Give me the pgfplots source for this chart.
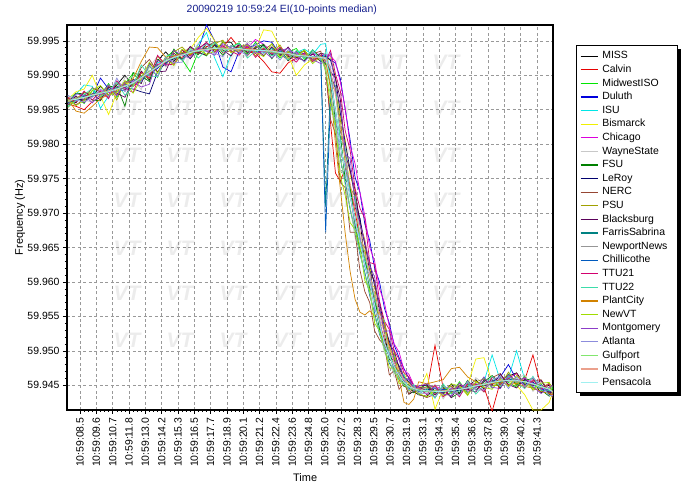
\documentclass[border=0pt]{standalone}
\usepackage{pgfplots}
\pgfplotsset{compat=1.18}
\usepackage{pgfplotstable}
\usepackage{fontspec}
\setmainfont{Liberation Sans}

\definecolor{cMISS}{RGB}{0,0,0}
\definecolor{cCalvin}{RGB}{230,0,0}
\definecolor{cMidwestISO}{RGB}{0,230,0}
\definecolor{cDuluth}{RGB}{0,0,220}
\definecolor{cISU}{RGB}{0,230,230}
\definecolor{cBismarck}{RGB}{240,240,0}
\definecolor{cChicago}{RGB}{220,0,220}
\definecolor{cWayneState}{RGB}{200,200,200}
\definecolor{cFSU}{RGB}{0,128,0}
\definecolor{cLeRoy}{RGB}{0,0,110}
\definecolor{cNERC}{RGB}{150,70,50}
\definecolor{cPSU}{RGB}{160,160,0}
\definecolor{cBlacksburg}{RGB}{90,0,90}
\definecolor{cFarrisSabrina}{RGB}{0,130,130}
\definecolor{cNewportNews}{RGB}{150,150,150}
\definecolor{cChillicothe}{RGB}{0,90,190}
\definecolor{cTTU21}{RGB}{210,0,110}
\definecolor{cTTU22}{RGB}{60,220,170}
\definecolor{cPlantCity}{RGB}{210,130,0}
\definecolor{cNewVT}{RGB}{160,220,0}
\definecolor{cMontgomery}{RGB}{140,60,200}
\definecolor{cAtlanta}{RGB}{140,140,220}
\definecolor{cGulfport}{RGB}{130,230,110}
\definecolor{cMadison}{RGB}{235,160,140}
\definecolor{cPensacola}{RGB}{160,240,240}
\definecolor{titleblue}{RGB}{20,30,140}

\pgfplotstableread[header=false,row sep=\\]{
x -0.75 -0.25 0.25 0.75 1.25 1.75 2.25 2.75 3.25 3.75 4.25 4.75 5.25 5.75 6.25 6.75 7.25 7.75 8.25 8.75
9.25 9.75 10.25 10.75 11.25 11.75 12.25 12.75 13.25 13.75 14.25 14.75
15.05 15.35 15.65 15.95 16.25 16.55 16.85 17.15 17.45 17.75 18.05 18.35 18.65 18.95 19.25 19.55 19.85 20.15 20.45 20.75
21.25 21.75 22.25 22.75 23.25 23.75 24.25 24.75 25.25 25.75 26.25 26.75 27.25 27.75 28.25 28.75 28.95 \\
MISS
59.9865 59.9860 59.9876 59.9869 59.9884 59.9871 59.9886 59.9900 59.9884 59.9906
59.9893 59.9921 59.9934 59.9920 59.9937 59.9924 59.9939 59.9947 59.9934 59.9948
59.9948 59.9931 59.9941 59.9935 59.9944 59.9929 59.9938 59.9921 59.9932 59.9935
59.9923 59.9932
59.9930 59.9900 59.9881 59.9820 59.9786 59.9734 59.9708 59.9692 59.9626 59.9626
59.9563 59.9565 59.9525 59.9487 59.9487 59.9460 59.9456 59.9437 59.9441 59.9436
59.9434 59.9446 59.9438 59.9452 59.9438 59.9448 59.9458 59.9444 59.9458 59.9446
59.9463 59.9468 59.9451 59.9455 59.9439 59.9451 59.9439 \\
Calvin
59.9858 59.9855 59.9850 59.9862 59.9868 59.9875 59.9872 59.9886 59.9884 59.9893
59.9900 59.9916 59.9918 59.9928 59.9926 59.9935 59.9933 59.9942 59.9938 59.9941
59.9955 59.9940 59.9934 59.9932 59.9920 59.9905 59.9903 59.9918 59.9925 59.9930
59.9922 59.9928
59.9912 59.9830 59.9758 59.9746 59.9765 59.9738 59.9702 59.9664 59.9630 59.9600
59.9570 59.9541 59.9516 59.9490 59.9478 59.9462 59.9450 59.9446 59.9441 59.9444
59.9443 59.9508 59.9446 59.9440 59.9447 59.9443 59.9450 59.9447 59.9412 59.9455
59.9460 59.9454 59.9458 59.9494 59.9448 59.9440 59.9436 \\
MidwestISO
59.9856 59.9869 59.9859 59.9878 59.9871 59.9888 59.9868 59.9887 59.9903 59.9889
59.9914 59.9897 59.9925 59.9936 59.9923 59.9905 59.9934 59.9928 59.9945 59.9935
59.9941 59.9947 59.9931 59.9948 59.9933 59.9939 59.9925 59.9933 59.9939 59.9923
59.9934 59.9923
59.9917 59.9904 59.9842 59.9808 59.9755 59.9736 59.9682 59.9655 59.9644 59.9584
59.9581 59.9528 59.9502 59.9497 59.9475 59.9468 59.9452 59.9450 59.9444 59.9444
59.9448 59.9432 59.9449 59.9438 59.9455 59.9439 59.9447 59.9461 59.9446 59.9461
59.9454 59.9447 59.9464 59.9446 59.9452 59.9436 59.9446 \\
Duluth
59.9866 59.9863 59.9870 59.9870 59.9896 59.9880 59.9876 59.9879 59.9886 59.9892
59.9902 59.9910 59.9924 59.9922 59.9933 59.9930 59.9938 59.9973 59.9950 59.9912
59.9905 59.9935 59.9940 59.9944 59.9950 59.9948 59.9930 59.9935 59.9929 59.9932
59.9926 59.9929
59.9928 59.9922 59.9918 59.9895 59.9850 59.9806 59.9752 59.9730 59.9684 59.9660
59.9620 59.9600 59.9562 59.9540 59.9508 59.9490 59.9474 59.9460 59.9450 59.9446
59.9443 59.9446 59.9440 59.9444 59.9447 59.9445 59.9452 59.9449 59.9455 59.9462
59.9480 59.9458 59.9452 59.9454 59.9445 59.9440 59.9434 \\
ISU
59.9868 59.9872 59.9886 59.9884 59.9852 59.9870 59.9878 59.9889 59.9894 59.9891
59.9903 59.9918 59.9922 59.9925 59.9933 59.9929 59.9945 59.9962 59.9925 59.9898
59.9930 59.9941 59.9937 59.9935 59.9932 59.9939 59.9935 59.9929 59.9933 59.9938
59.9930 59.9945
59.9946 59.9895 59.9850 59.9802 59.9756 59.9728 59.9686 59.9660 59.9622 59.9600
59.9563 59.9540 59.9508 59.9494 59.9474 59.9466 59.9450 59.9446 59.9442 59.9445
59.9440 59.9446 59.9443 59.9448 59.9444 59.9450 59.9447 59.9455 59.9494 59.9457
59.9460 59.9500 59.9458 59.9450 59.9446 59.9443 59.9438 \\
Bismarck
59.9865 59.9876 59.9880 59.9900 59.9870 59.9843 59.9875 59.9890 59.9884 59.9899
59.9902 59.9914 59.9925 59.9923 59.9932 59.9938 59.9955 59.9968 59.9950 59.9935
59.9940 59.9934 59.9943 59.9938 59.9966 59.9964 59.9940 59.9929 59.9900 59.9915
59.9924 59.9922
59.9920 59.9925 59.9898 59.9840 59.9806 59.9755 59.9730 59.9684 59.9662 59.9620
59.9600 59.9562 59.9542 59.9508 59.9495 59.9472 59.9468 59.9450 59.9445 59.9441
59.9467 59.9415 59.9445 59.9448 59.9446 59.9450 59.9488 59.9490 59.9455 59.9452
59.9458 59.9450 59.9436 59.9414 59.9414 59.9425 59.9440 \\
Chicago
59.9860 59.9867 59.9871 59.9869 59.9878 59.9875 59.9883 59.9887 59.9886 59.9898
59.9903 59.9915 59.9921 59.9924 59.9931 59.9934 59.9940 59.9935 59.9938 59.9941
59.9937 59.9944 59.9940 59.9952 59.9945 59.9934 59.9937 59.9930 59.9933 59.9926
59.9930 59.9931
59.9930 59.9928 59.9920 59.9890 59.9852 59.9798 59.9772 59.9730 59.9696 59.9650
59.9630 59.9590 59.9570 59.9535 59.9510 59.9498 59.9472 59.9466 59.9450 59.9447
59.9446 59.9449 59.9443 59.9441 59.9448 59.9452 59.9447 59.9455 59.9451 59.9460
59.9462 59.9456 59.9460 59.9453 59.9450 59.9444 59.9440 \\
WayneState
59.9870 59.9867 59.9864 59.9861 59.9879 59.9878 59.9870 59.9897 59.9894 59.9879
59.9911 59.9928 59.9912 59.9923 59.9938 59.9927 59.9947 59.9939 59.9930 59.9944
59.9935 59.9930 59.9949 59.9939 59.9930 59.9942 59.9932 59.9940 59.9922 59.9931
59.9917 59.9930
59.9912 59.9886 59.9820 59.9761 59.9758 59.9707 59.9664 59.9648 59.9610 59.9593
59.9547 59.9534 59.9497 59.9486 59.9462 59.9461 59.9453 59.9439 59.9448 59.9437
59.9439 59.9451 59.9430 59.9447 59.9446 59.9438 59.9461 59.9452 59.9445 59.9464
59.9451 59.9460 59.9465 59.9441 59.9454 59.9446 59.9434 \\
FSU
59.9860 59.9874 59.9873 59.9864 59.9863 59.9883 59.9885 59.9855 59.9904 59.9899
59.9891 59.9923 59.9915 59.9938 59.9922 59.9935 59.9930 59.9946 59.9943 59.9929
59.9943 59.9939 59.9930 59.9940 59.9945 59.9924 59.9939 59.9927 59.9931 59.9920
59.9937 59.9925
59.9916 59.9908 59.9830 59.9811 59.9748 59.9741 59.9682 59.9646 59.9634 59.9591
59.9580 59.9531 59.9505 59.9505 59.9468 59.9472 59.9448 59.9452 59.9439 59.9445
59.9451 59.9439 59.9447 59.9432 59.9439 59.9457 59.9443 59.9455 59.9464 59.9453
59.9466 59.9450 59.9457 59.9460 59.9443 59.9434 59.9444 \\
LeRoy
59.9862 59.9866 59.9864 59.9870 59.9873 59.9878 59.9880 59.9882 59.9880 59.9876
59.9873 59.9905 59.9918 59.9924 59.9931 59.9930 59.9936 59.9939 59.9937 59.9940
59.9938 59.9939 59.9936 59.9935 59.9937 59.9936 59.9934 59.9932 59.9930 59.9929
59.9926 59.9927
59.9927 59.9922 59.9896 59.9845 59.9802 59.9763 59.9722 59.9692 59.9654 59.9628
59.9594 59.9570 59.9535 59.9514 59.9490 59.9478 59.9462 59.9455 59.9447 59.9444
59.9444 59.9442 59.9439 59.9443 59.9442 59.9446 59.9450 59.9449 59.9453 59.9457
59.9456 59.9458 59.9454 59.9451 59.9449 59.9443 59.9438 \\
NERC
59.9867 59.9857 59.9865 59.9882 59.9876 59.9868 59.9890 59.9878 59.9887 59.9911
59.9923 59.9904 59.9926 59.9916 59.9931 59.9941 59.9931 59.9941 59.9949 59.9932
59.9936 59.9944 59.9928 59.9942 59.9937 59.9945 59.9930 59.9923 59.9935 59.9926
59.9931 59.9935
59.9905 59.9836 59.9815 59.9744 59.9737 59.9672 59.9672 59.9617 59.9586 59.9570
59.9529 59.9516 59.9508 59.9465 59.9471 59.9444 59.9453 59.9437 59.9447 59.9437
59.9432 59.9437 59.9445 59.9449 59.9435 59.9451 59.9452 59.9440 59.9461 59.9467
59.9449 59.9458 59.9449 59.9456 59.9458 59.9441 59.9432 \\
PSU
59.9853 59.9866 59.9875 59.9874 59.9868 59.9885 59.9864 59.9892 59.9886 59.9903
59.9895 59.9928 59.9914 59.9934 59.9941 59.9930 59.9937 59.9930 59.9946 59.9951
59.9933 59.9941 59.9945 59.9928 59.9940 59.9933 59.9944 59.9925 59.9926 59.9937
59.9920 59.9928
59.9922 59.9887 59.9878 59.9835 59.9772 59.9737 59.9724 59.9660 59.9650 59.9593
59.9594 59.9538 59.9536 59.9494 59.9496 59.9463 59.9457 59.9454 59.9445 59.9446
59.9446 59.9449 59.9434 59.9439 59.9453 59.9436 59.9455 59.9459 59.9450 59.9449
59.9469 59.9452 59.9462 59.9443 59.9446 59.9453 59.9447 \\
Blacksburg
59.9859 59.9870 59.9860 59.9873 59.9864 59.9883 59.9874 59.9868 59.9894 59.9888
59.9917 59.9905 59.9906 59.9932 59.9923 59.9942 59.9933 59.9929 59.9944 59.9937
59.9928 59.9945 59.9933 59.9939 59.9928 59.9941 59.9928 59.9941 59.9926 59.9921
59.9931 59.9920
59.9923 59.9905 59.9896 59.9865 59.9786 59.9761 59.9734 59.9684 59.9657 59.9615
59.9601 59.9558 59.9542 59.9509 59.9500 59.9475 59.9459 59.9459 59.9444 59.9449
59.9450 59.9436 59.9444 59.9432 59.9450 59.9444 59.9440 59.9458 59.9450 59.9466
59.9451 59.9446 59.9459 59.9449 59.9457 59.9437 59.9443 \\
FarrisSabrina
59.9860 59.9865 59.9869 59.9870 59.9873 59.9879 59.9882 59.9883 59.9888 59.9896
59.9905 59.9914 59.9918 59.9926 59.9931 59.9932 59.9937 59.9938 59.9938 59.9940
59.9937 59.9938 59.9937 59.9936 59.9937 59.9934 59.9933 59.9931 59.9929 59.9928
59.9926 59.9925
59.9709 59.9885 59.9848 59.9798 59.9762 59.9724 59.9692 59.9654 59.9628 59.9595
59.9568 59.9536 59.9514 59.9490 59.9478 59.9463 59.9455 59.9447 59.9444 59.9442
59.9442 59.9440 59.9443 59.9441 59.9444 59.9447 59.9448 59.9451 59.9454 59.9455
59.9457 59.9456 59.9455 59.9452 59.9448 59.9443 59.9441 \\
NewportNews
59.9863 59.9864 59.9868 59.9872 59.9874 59.9876 59.9881 59.9884 59.9889 59.9896
59.9904 59.9913 59.9920 59.9926 59.9930 59.9933 59.9935 59.9938 59.9939 59.9938
59.9938 59.9937 59.9938 59.9936 59.9936 59.9934 59.9933 59.9931 59.9930 59.9928
59.9927 59.9926
59.9923 59.9892 59.9848 59.9801 59.9759 59.9726 59.9689 59.9657 59.9625 59.9598
59.9566 59.9539 59.9511 59.9493 59.9476 59.9465 59.9453 59.9449 59.9444 59.9443
59.9441 59.9442 59.9440 59.9443 59.9444 59.9447 59.9448 59.9452 59.9453 59.9457
59.9456 59.9458 59.9454 59.9453 59.9447 59.9445 59.9440 \\
Chillicothe
59.9861 59.9866 59.9867 59.9873 59.9872 59.9878 59.9879 59.9886 59.9888 59.9898
59.9906 59.9911 59.9921 59.9925 59.9931 59.9934 59.9935 59.9939 59.9938 59.9940
59.9937 59.9939 59.9936 59.9938 59.9935 59.9936 59.9932 59.9932 59.9928 59.9929
59.9927 59.9925
59.9672 59.9865 59.9825 59.9778 59.9745 59.9705 59.9676 59.9640 59.9614 59.9580
59.9555 59.9524 59.9504 59.9482 59.9471 59.9458 59.9452 59.9445 59.9445 59.9441
59.9443 59.9441 59.9444 59.9442 59.9445 59.9446 59.9450 59.9450 59.9455 59.9454
59.9459 59.9456 59.9453 59.9453 59.9449 59.9442 59.9439 \\
TTU21
59.9868 59.9861 59.9877 59.9864 59.9877 59.9866 59.9892 59.9881 59.9875 59.9905
59.9896 59.9929 59.9915 59.9916 59.9937 59.9928 59.9938 59.9948 59.9933 59.9943
59.9935 59.9929 59.9943 59.9926 59.9939 59.9931 59.9941 59.9929 59.9919 59.9933
59.9920 59.9929
59.9921 59.9936 59.9902 59.9877 59.9819 59.9791 59.9736 59.9707 59.9692 59.9628
59.9626 59.9572 59.9543 59.9531 59.9500 59.9488 59.9468 59.9462 59.9449 59.9448
59.9436 59.9450 59.9433 59.9446 59.9433 59.9453 59.9451 59.9441 59.9462 59.9451
59.9460 59.9467 59.9446 59.9458 59.9444 59.9452 59.9436 \\
TTU22
59.9854 59.9863 59.9872 59.9881 59.9869 59.9876 59.9890 59.9871 59.9884 59.9915
59.9899 59.9898 59.9928 59.9929 59.9922 59.9939 59.9925 59.9937 59.9948 59.9934
59.9941 59.9946 59.9925 59.9935 59.9942 59.9928 59.9934 59.9922 59.9936 59.9925
59.9937 59.9922
59.9933 59.9890 59.9885 59.9806 59.9794 59.9722 59.9724 59.9663 59.9632 59.9614
59.9575 59.9554 59.9543 59.9489 59.9493 59.9458 59.9466 59.9442 59.9451 59.9437
59.9445 59.9431 59.9452 59.9437 59.9442 59.9454 59.9437 59.9450 59.9463 59.9448
59.9463 59.9454 59.9445 59.9463 59.9442 59.9442 59.9448 \\
PlantCity
59.9866 59.9848 59.9845 59.9855 59.9866 59.9872 59.9878 59.9888 59.9895 59.9920
59.9941 59.9940 59.9926 59.9928 59.9933 59.9930 59.9936 59.9938 59.9937 59.9940
59.9938 59.9936 59.9939 59.9937 59.9935 59.9936 59.9932 59.9933 59.9929 59.9930
59.9926 59.9925
59.9922 59.9880 59.9800 59.9735 59.9670 59.9615 59.9575 59.9556 59.9552 59.9558
59.9550 59.9556 59.9540 59.9505 59.9490 59.9460 59.9425 59.9422 59.9430 59.9455
59.9452 59.9455 59.9458 59.9474 59.9476 59.9462 59.9455 59.9450 59.9452 59.9455
59.9450 59.9453 59.9448 59.9446 59.9441 59.9438 59.9436 \\
NewVT
59.9864 59.9856 59.9863 59.9878 59.9885 59.9871 59.9875 59.9892 59.9874 59.9895
59.9919 59.9903 59.9925 59.9914 59.9938 59.9931 59.9942 59.9930 59.9935 59.9949
59.9933 59.9937 59.9944 59.9934 59.9927 59.9946 59.9927 59.9935 59.9927 59.9936
59.9917 59.9927
59.9909 59.9856 59.9830 59.9754 59.9725 59.9686 59.9676 59.9652 59.9602 59.9588
59.9540 59.9529 59.9505 59.9475 59.9475 59.9452 59.9454 59.9442 59.9447 59.9438
59.9433 59.9443 59.9435 59.9452 59.9449 59.9435 59.9455 59.9447 59.9444 59.9459
59.9448 59.9464 59.9453 59.9444 59.9453 59.9454 59.9438 \\
Montgomery
59.9857 59.9873 59.9871 59.9860 59.9872 59.9886 59.9870 59.9890 59.9891 59.9883
59.9887 59.9922 59.9914 59.9936 59.9929 59.9925 59.9941 59.9935 59.9929 59.9946
59.9940 59.9932 59.9946 59.9932 59.9935 59.9925 59.9936 59.9939 59.9923 59.9930
59.9923 59.9917
59.9920 59.9932 59.9880 59.9858 59.9786 59.9779 59.9714 59.9683 59.9660 59.9624
59.9607 59.9563 59.9528 59.9529 59.9481 59.9488 59.9456 59.9460 59.9441 59.9449
59.9452 59.9445 59.9437 59.9435 59.9453 59.9441 59.9446 59.9462 59.9447 59.9445
59.9465 59.9456 59.9461 59.9448 59.9438 59.9447 59.9450 \\
Atlanta
59.9871 59.9864 59.9861 59.9868 59.9880 59.9869 59.9896 59.9876 59.9892 59.9891
59.9915 59.9898 59.9926 59.9918 59.9919 59.9936 59.9935 59.9946 59.9932 59.9927
59.9943 59.9935 59.9929 59.9946 59.9932 59.9937 59.9922 59.9937 59.9932 59.9919
59.9934 59.9924
59.9924 59.9912 59.9840 59.9784 59.9773 59.9727 59.9677 59.9665 59.9622 59.9611
59.9559 59.9549 59.9505 59.9497 59.9468 59.9468 59.9458 59.9443 59.9448 59.9439
59.9438 59.9433 59.9448 59.9445 59.9435 59.9456 59.9443 59.9443 59.9458 59.9463
59.9445 59.9462 59.9448 59.9461 59.9450 59.9435 59.9435 \\
Gulfport
59.9861 59.9867 59.9868 59.9870 59.9875 59.9877 59.9880 59.9885 59.9888 59.9896
59.9906 59.9912 59.9921 59.9925 59.9930 59.9934 59.9935 59.9938 59.9940 59.9939
59.9937 59.9938 59.9936 59.9937 59.9936 59.9934 59.9932 59.9932 59.9928 59.9928
59.9926 59.9927
59.9906 59.9871 59.9822 59.9781 59.9740 59.9708 59.9672 59.9643 59.9610 59.9583
59.9550 59.9526 59.9501 59.9485 59.9469 59.9460 59.9450 59.9447 59.9443 59.9443
59.9441 59.9442 59.9441 59.9443 59.9444 59.9446 59.9449 59.9452 59.9454 59.9456
59.9457 59.9456 59.9455 59.9451 59.9448 59.9445 59.9441 \\
Madison
59.9862 59.9866 59.9867 59.9872 59.9873 59.9878 59.9879 59.9885 59.9889 59.9896
59.9905 59.9912 59.9920 59.9927 59.9930 59.9933 59.9937 59.9938 59.9939 59.9940
59.9938 59.9937 59.9938 59.9937 59.9935 59.9936 59.9933 59.9931 59.9929 59.9929
59.9926 59.9926
59.9926 59.9907 59.9871 59.9822 59.9781 59.9743 59.9706 59.9674 59.9640 59.9612
59.9581 59.9553 59.9524 59.9503 59.9483 59.9471 59.9458 59.9452 59.9445 59.9445
59.9442 59.9441 59.9442 59.9443 59.9444 59.9446 59.9450 59.9451 59.9454 59.9457
59.9457 59.9456 59.9455 59.9452 59.9448 59.9444 59.9440 \\
Pensacola
59.9864 59.9865 59.9868 59.9871 59.9874 59.9876 59.9880 59.9884 59.9889 59.9897
59.9904 59.9913 59.9921 59.9926 59.9929 59.9933 59.9936 59.9937 59.9939 59.9938
59.9938 59.9939 59.9937 59.9936 59.9936 59.9935 59.9933 59.9932 59.9929 59.9928
59.9927 59.9926
59.9924 59.9893 59.9848 59.9800 59.9760 59.9725 59.9690 59.9656 59.9626 59.9597
59.9567 59.9538 59.9512 59.9492 59.9477 59.9464 59.9454 59.9448 59.9445 59.9443
59.9442 59.9441 59.9441 59.9442 59.9444 59.9446 59.9449 59.9451 59.9454 59.9456
59.9457 59.9457 59.9455 59.9452 59.9448 59.9444 59.9441 \\
}\rawdata
\pgfplotstabletranspose[colnames from=0]{\freqdata}{\rawdata}

\newcommand{\ser}[1]{\addplot[color=c#1, draw=c#1] table[x=x,y=#1]{\freqdata}; \addlegendentry{#1}}

\begin{document}
\begin{tikzpicture}
% faint "VT" watermarks behind the plot (axis south west is at the origin)
\foreach \wx in {60,113,166,220,273,326,379} {
  \foreach \wy in {348,302,255,210,162,117,70} {
    \node[text=gray!15, font=\fontsize{21}{21}\selectfont\bfseries\itshape] at (\wx bp,\wy bp) {VT};
  }
}
% legend frame and its shadow
\fill[black] (513bp,14bp) rectangle (614bp,361bp);
\filldraw[fill=white, draw=black, line width=0.8bp] (509bp,18bp) rectangle (610bp,365bp);
\begin{axis}[
  at={(0,0)}, anchor=south west,
  scale only axis, width=486bp, height=385bp,
  xmin=-0.8, xmax=28.98, ymin=59.9414, ymax=59.9973,
  xtick={0,...,28},
  xticklabels={10:59:08.5,10:59:09.6,10:59:10.7,10:59:11.8,10:59:13.0,10:59:14.2,10:59:15.3,10:59:16.5,10:59:17.7,10:59:18.9,10:59:20.1,10:59:21.2,10:59:22.4,10:59:23.6,10:59:24.8,10:59:26.0,10:59:27.2,10:59:28.3,10:59:29.5,10:59:30.7,10:59:31.9,10:59:33.1,10:59:34.3,10:59:35.4,10:59:36.6,10:59:37.8,10:59:39.0,10:59:40.2,10:59:41.3},
  ytick={59.945,59.95,59.955,59.96,59.965,59.97,59.975,59.98,59.985,59.99,59.995},
  scaled y ticks=false,
  yticklabel style={/pgf/number format/fixed, /pgf/number format/fixed zerofill, /pgf/number format/precision=3},
  /pgf/number format/assume math mode=true,
  ticklabel style={font=\fontsize{10.5}{12}\selectfont},
  xticklabel style={rotate=90, anchor=east},
  minor x tick num=3, minor y tick num=4,
  tick align=outside, xtick pos=left, ytick pos=left,
  major tick length=4bp, minor tick length=2bp,
  tick style={black, line width=0.5bp},
  grid=major,
  major grid style={dash pattern=on 3bp off 2.5bp, gray!80, line width=0.5bp},
  axis line style={line width=1.8bp},
  title={20090219 10:59:24 EI(10-points median)},
  title style={at={(axis description cs:0.442,1.039)}, anchor=center, yshift=-6pt, font=\fontsize{10.5}{12}\selectfont, text=titleblue},
  xlabel={Time},
  xlabel style={at={(axis description cs:0.49,0)}, anchor=center, yshift=-68bp, font=\fontsize{11}{13}\selectfont},
  ylabel={Frequency (Hz)},
  ylabel style={at={(axis description cs:-0.0967,0.5)}, anchor=center, font=\fontsize{11}{13}\selectfont},
  every axis plot/.append style={line width=0.7bp},
  legend cell align=left,
  legend style={at={(1.047,0.948)}, anchor=north west, draw=none, fill=none,
    font=\fontsize{10.5}{12}\selectfont, inner xsep=4bp, inner ysep=6bp, row sep=3.6bp, column sep=4bp,
    nodes={inner xsep=0bp, inner ysep=0bp, text height=7.6bp, text depth=2.4bp}},
  legend image code/.code={\draw[#1, line width=1.25bp] (0bp,0bp) -- (17bp,0bp);},
]
\ser{MISS}
\ser{Calvin}
\ser{MidwestISO}
\ser{Duluth}
\ser{ISU}
\ser{Bismarck}
\ser{Chicago}
\ser{WayneState}
\ser{FSU}
\ser{LeRoy}
\ser{NERC}
\ser{PSU}
\ser{Blacksburg}
\ser{FarrisSabrina}
\ser{NewportNews}
\ser{Chillicothe}
\ser{TTU21}
\ser{TTU22}
\ser{PlantCity}
\ser{NewVT}
\ser{Montgomery}
\ser{Atlanta}
\ser{Gulfport}
\ser{Madison}
\ser{Pensacola}
\end{axis}
\pgfresetboundingbox
\path[use as bounding box] (-67bp,-77bp) rectangle (615bp,410bp);
\end{tikzpicture}
\end{document}
